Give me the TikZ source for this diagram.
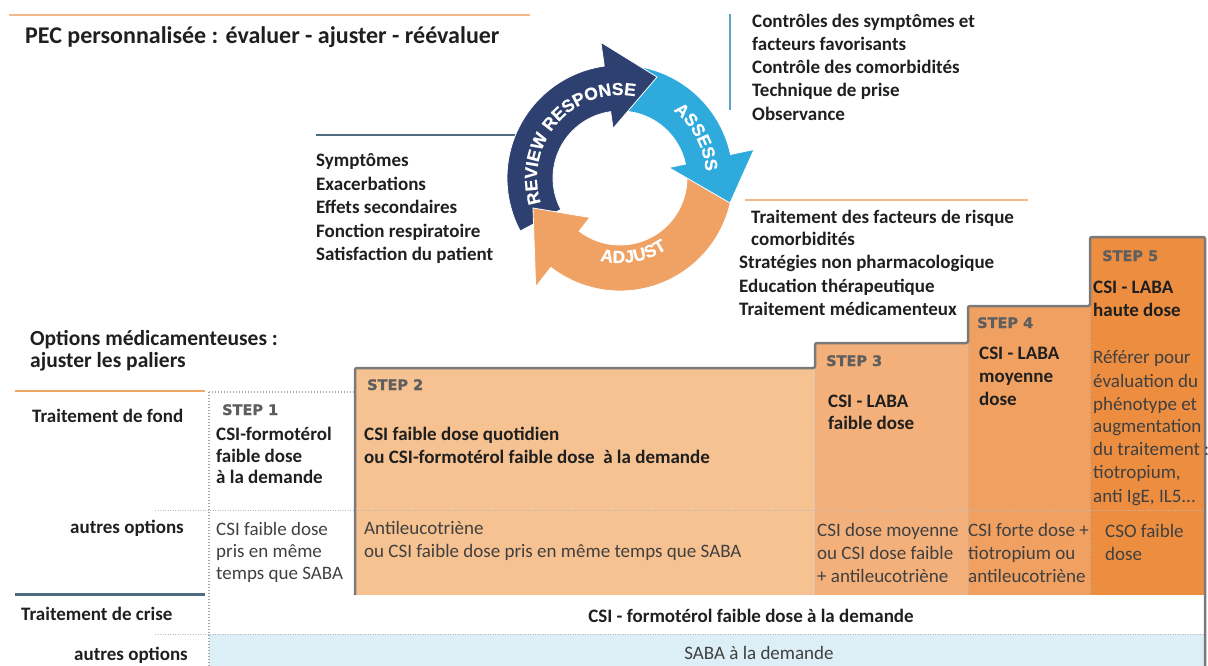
\documentclass[tikz,border=0pt]{standalone}
\usepackage{fontspec}
\setmainfont{Carlito}
\newfontfamily\arialfont{Liberation Sans}[BoldFeatures={FakeBold=0.6}]
\newfontfamily\stepfont{DejaVu Sans}[BoldFeatures={FakeBold=1.2}]
\usetikzlibrary{decorations.text,calc}
\definecolor{navyc}{HTML}{2D4070}
\definecolor{tealc}{HTML}{2EAADC}
\definecolor{orangec}{HTML}{EFA263}
\definecolor{lineor}{HTML}{F4B98A}
\definecolor{lineor2}{HTML}{EFA868}
\definecolor{slate}{HTML}{4E6B80}
\definecolor{tealline}{HTML}{5BA8C4}
\definecolor{stepA}{HTML}{F6C291}
\definecolor{stepB}{HTML}{F3B07A}
\definecolor{stepC}{HTML}{F0A061}
\definecolor{stepD}{HTML}{ED8D40}
\definecolor{outl}{HTML}{7A7A7A}
\definecolor{dotg}{HTML}{A8A8A8}
\definecolor{lightblue}{HTML}{DCEFF6}
\definecolor{stepgray}{HTML}{5E5E5E}
\definecolor{optgray}{HTML}{404040}
\newcommand\cycfont{\arialfont\bfseries\fontsize{17.5}{17.5}\selectfont}
\tikzset{
  bl/.style={anchor=base west, inner sep=0pt, font=\fontsize{19}{23}\selectfont\bfseries, text=black!88},
  hd/.style={anchor=base west, inner sep=0pt, font=\fontsize{21.5}{26}\selectfont\bfseries, text=black!88},
  op/.style={anchor=base west, inner sep=0pt, font=\fontsize{19}{23}\selectfont, text=optgray},
  stl/.style={anchor=base west, inner sep=0pt, font=\stepfont\bfseries\fontsize{14.5}{16}\selectfont, text=stepgray},
  deco/.style={line width=2pt},
  dotsep/.style={dotg, line width=1.2pt, dash pattern=on 1.2pt off 1.8pt},
  dotthin/.style={dotg!80, line width=0.8pt, dash pattern=on 1pt off 1.5pt},
  arc text/.style={decorate, decoration={text along path, text={|\cycfont|#1}, text align=center, text color=white}}
}
\begin{document}
\begin{tikzpicture}[x=1pt,y=1pt]
\useasboundingbox (0,0) rectangle (1208,-666);

% ---------- decorative lines ----------
\coordinate (o1a) at (9,-15);   \coordinate (o1b) at (530,-15);
\coordinate (s1a) at (316,-135); \coordinate (s1b) at (517,-135);
\coordinate (t1a) at (730,-14);  \coordinate (t1b) at (730,-110);
\coordinate (o2a) at (745,-200); \coordinate (o2b) at (1028,-200);
\draw[deco, lineor] (o1a) -- (o1b);
\draw[deco, slate] (s1a) -- (s1b);
\draw[deco, tealline] (t1a) -- (t1b);
\draw[deco, lineor] (o2a) -- (o2b);

% ---------- title ----------
\node[hd, font=\fontsize{24}{28}\selectfont\bfseries] (title) at (25,-44) {PEC personnalisée : évaluer - ajuster - réévaluer};

% ---------- cycle ----------
\begin{scope}[shift={(620,-178)}]
  \def\ri{67}\def\ro{113}
  \fill[orangec, draw=white, line width=0.8pt] (3:\ro) arc[start angle=3, end angle=-128, radius=\ro] -- (232:137) -- (-87,-30) -- (232:50) -- (232:\ri) arc[start angle=-128, end angle=3, radius=\ri] -- cycle;
  \fill[tealc, draw=white, line width=0.8pt] (86:\ro) arc[start angle=86, end angle=12, radius=\ro] -- (12:137) -- (110,-25) -- (12:50) -- (12:\ri) arc[start angle=12, end angle=86, radius=\ri] -- cycle;
  \fill[navyc, draw=white, line width=0.8pt] (208:\ro) arc[start angle=208, end angle=98, radius=\ro] -- (98:137) -- (37,101) -- (98:50) -- (98:\ri) arc[start angle=98, end angle=208, radius=\ri] -- cycle;
  \fill[orangec] (232:137) -- (-87,-30) -- (232:50) -- cycle;
  \draw[white, line width=0.8pt] (232:137) -- (-87,-30) -- (232:50);
  \path[arc text={REVIEW RESPONSE}] (203:83) arc[start angle=203, end angle=74, radius=83];
  \path[arc text={ASSESS}] (58:86) arc[start angle=58, end angle=-2, radius=86];
  \path[arc text={ADJUST}] (248:85) arc[start angle=248, end angle=312, radius=85];
\end{scope}

% ---------- lists around the cycle ----------
\foreach \t/\y [count=\i] in {Symptômes/167, Exacerbations/190, Effets secondaires/213, Fonction respiratoire/237, Satisfaction du patient/260}
  \node[bl] (L\i) at (316,-\y) {\t};
\foreach \t/\y [count=\i] in {Contrôles des symptômes et/28, facteurs favorisants/51, Contrôle des comorbidités/74, Technique de prise/97, Observance/121}
  \node[bl] (R\i) at (752,-\y) {\t};
\node[bl] (B1) at (751,-223) {Traitement des facteurs de risque};
\node[bl] (B2) at (751,-245) {comorbidités};
\node[bl] (B3) at (739,-268) {Stratégies non pharmacologique};
\node[bl] (B4) at (739,-292) {Education thérapeutique};
\node[bl] (B5) at (739,-315) {Traitement médicamenteux};

% ---------- table ----------
\node[hd] (opt1) at (30,-345) {Options médicamenteuses :};
\node[hd] (opt2) at (30,-367) {ajuster les paliers};

% rows background
\fill[lightblue] (209,-634) rectangle (1205,-666);
% steps
\fill[stepA] (355,-368) rectangle (815,-595);
\fill[stepB] (815,-343) rectangle (968,-595);
\fill[stepC] (968,-306) rectangle (1090,-595);
\fill[stepD] (1090,-237) rectangle (1205,-595);
\draw[dotthin] (815,-368) -- (815,-595);
\draw[dotthin] (968,-343) -- (968,-595);
\draw[dotthin] (1090,-306) -- (1090,-595);
\draw[dotthin] (155,-510) -- (1205,-510);
\draw[dotthin] (155,-634) -- (1205,-634);
\draw[outl, line width=2.5pt, rounded corners=2pt] (355,-595) -- (355,-368) -- (815,-368) -- (815,-343) -- (968,-343) -- (968,-306) -- (1090,-306) -- (1090,-237) -- (1205,-237) -- (1205,-666);
\draw[dotsep] (209,-392) -- (355,-392);
\draw[dotsep] (209,-392) -- (209,-666);
\coordinate (o3a) at (15,-391); \coordinate (o3b) at (205,-391);
\coordinate (s3a) at (15,-594); \coordinate (s3b) at (205,-594);
\draw[lineor2, line width=2.5pt] (o3a) -- (o3b);
\draw[slate, line width=3pt] (s3a) -- (s3b);

% row labels
\node[bl] (rf) at (32,-422) {Traitement de fond};
\node[bl] (ro1) at (70,-533) {autres options};
\node[bl] (rc) at (21,-620) {Traitement de crise};
\node[bl] (ro2) at (74,-660) {autres options};

% step 1
\node[stl] (s1) at (222,-415) {STEP 1};
\foreach \t/\y [count=\i] in {CSI-formotérol/440, faible dose/462, à la demande/483}
  \node[bl] (s1b\i) at (216,-\y) {\t};
\foreach \t/\y [count=\i] in {CSI faible dose/535, pris en même/557, temps que SABA/579}
  \node[op] (s1o\i) at (216,-\y) {\t};
% step 2
\node[stl] (s2) at (367,-390) {STEP 2};
\node[bl] (s2b1) at (364,-440) {CSI faible dose quotidien};
\node[bl] (s2b2) at (364,-463) {ou CSI-formotérol faible dose \ à la demande};
\node[op] (s2o1) at (364,-534) {Antileucotriène};
\node[op] (s2o2) at (364,-557) {ou CSI faible dose pris en même temps que SABA};
% step 3
\node[stl] (s3) at (826,-366) {STEP 3};
\node[bl] (s3b1) at (828,-407) {CSI - LABA};
\node[bl] (s3b2) at (828,-429) {faible dose};
\foreach \t/\y [count=\i] in {CSI dose moyenne/536, ou CSI dose faible/559, + antileucotriène/582}
  \node[op] (s3o\i) at (817,-\y) {\t};
% step 4
\node[stl] (s4) at (977,-328) {STEP 4};
\foreach \t/\y [count=\i] in {CSI - LABA/359, moyenne/382, dose/405}
  \node[bl] (s4b\i) at (979,-\y) {\t};
\foreach \t/\y [count=\i] in {CSI forte dose +/536, tiotropium ou/559, antileucotriène/582}
  \node[op] (s4o\i) at (968,-\y) {\t};
% step 5
\node[stl] (s5) at (1102,-261) {STEP 5};
\node[bl] (s5b1) at (1093,-293) {CSI - LABA};
\node[bl] (s5b2) at (1093,-316) {haute dose};
\foreach \t/\y [count=\i] in {Référer pour/363, évaluation du/387, phénotype et/410, augmentation/432, du traitement :/455, {tiotropium,}/478, {anti IgE, IL5...}/502}
  \node[op] (s5n\i) at (1093,-\y) {\t};
\node[op] (s5o1) at (1105,-537) {CSO faible};
\node[op] (s5o2) at (1105,-560) {dose};

% bottom rows
\node[bl, anchor=base] (crise) at (751,-622) {CSI - formotérol faible dose à la demande};
\node[op, anchor=base] (saba) at (759,-659) {SABA à la demande};
\end{tikzpicture}
\end{document}
